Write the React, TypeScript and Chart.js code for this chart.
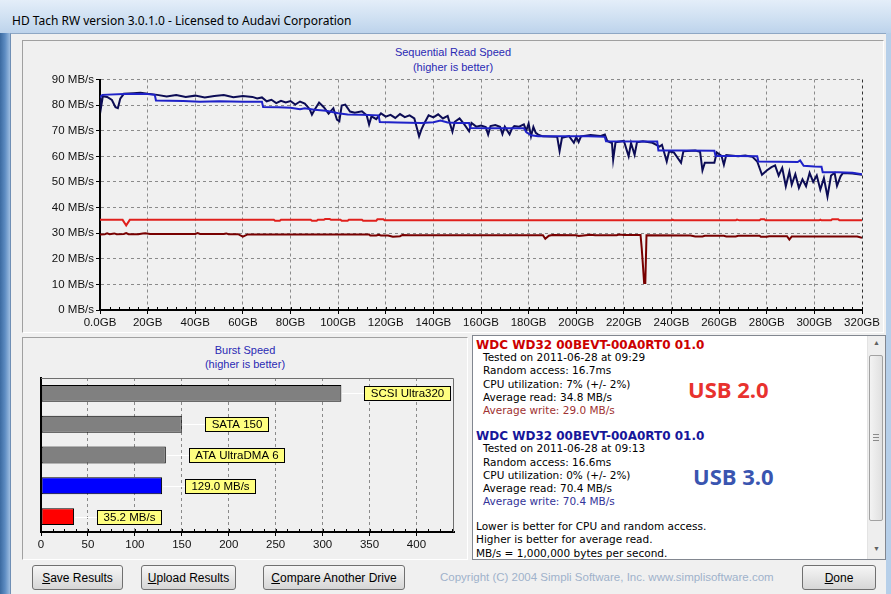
import React, { useEffect, useRef } from 'react';
import { Chart, registerables } from 'chart.js';

Chart.register(...registerables);

// ---------------- Sequential read chart data ----------------
const seqXLabels = ['0.0GB', '20GB', '40GB', '60GB', '80GB', '100GB', '120GB', '140GB', '160GB', '180GB', '200GB', '220GB', '240GB', '260GB', '280GB', '300GB', '320GB'];
const seqYLabels = ['0 MB/s', '10 MB/s', '20 MB/s', '30 MB/s', '40 MB/s', '50 MB/s', '60 MB/s', '70 MB/s', '80 MB/s', '90 MB/s'];

// USB 3.0 read (blue)
const usb3ReadGB = [0, 0.5, 1, 10, 20, 23, 23.5, 35, 42, 50, 60, 68, 68.5, 75, 80, 84, 86, 90, 95, 98, 100, 104, 110, 117, 117.5, 125, 135, 140, 143, 146, 150, 155, 155.5, 165, 178, 179, 181, 184, 195, 205, 212, 212.5, 225, 234, 234.5, 245, 258, 258.5, 268, 276, 276.5, 285, 293, 294, 295.5, 300, 303, 303.5, 310, 316, 320];
const usb3ReadMBs = [83.0, 83.5, 84.0, 84.3, 84.3, 84.0, 81.8, 81.6, 81.3, 81.5, 81.3, 81.3, 79.3, 79.2, 79.0, 78.4, 78.8, 78.2, 77.8, 77.2, 76.8, 76.3, 76.2, 76.0, 73.4, 73.2, 73.0, 73.3, 74.0, 73.2, 73.0, 73.0, 71.1, 71.0, 71.0, 69.5, 68.2, 67.8, 67.8, 67.8, 67.6, 65.9, 65.8, 65.8, 62.3, 62.3, 62.2, 60.1, 60.1, 60.0, 58.0, 57.9, 57.8, 58.4, 56.3, 56.0, 55.9, 53.8, 53.8, 53.6, 53.0];

// USB 3.0 write (navy)
const usb3WriteGB = [0, 0.5, 1.2, 3, 5, 6.5, 7.5, 8.5, 10, 14, 17, 20, 24, 28, 32, 36, 40, 44, 48, 52, 56, 60, 64, 66, 68, 70, 72, 74, 76, 78, 80, 82, 84, 86, 88, 89, 90, 92, 94, 96, 98, 99.5, 100.5, 101.5, 103, 105, 107, 110, 112, 113, 114, 116, 118, 120, 122, 124, 126, 128, 130, 132, 134, 135, 136, 138, 140, 142, 144, 146, 148, 149, 151, 153, 155, 156, 158, 160, 162, 163, 164, 166, 168, 169, 170, 172, 173, 174, 176, 178, 179, 180, 181, 182, 183, 184, 186, 192, 193, 194, 197, 199, 200, 201, 202, 206, 210, 212, 213, 215, 215.5, 216.5, 220, 222, 223, 224.5, 225.5, 228, 232, 235, 236, 238, 239, 241, 244, 245, 250, 252, 253, 254, 258, 259, 261, 262, 263, 268, 271, 274, 276, 278, 280, 282, 283.5, 285, 286.5, 288, 289.5, 290.5, 292, 293.5, 295, 296.5, 298, 299.5, 301, 302.5, 304, 305.5, 307, 308.5, 309.5, 311, 312, 316, 320];
const usb3WriteMBs = [84.0, 79.5, 83.5, 83.2, 82.0, 79.2, 78.8, 82.5, 84.4, 84.6, 84.8, 84.4, 84.0, 83.4, 83.9, 83.2, 83.7, 83.0, 83.6, 83.9, 83.1, 83.6, 83.2, 82.6, 83.0, 81.5, 82.1, 80.8, 81.7, 81.0, 81.6, 80.2, 81.4, 80.6, 78.5, 76.3, 78.0, 81.0, 79.2, 76.7, 78.8, 74.3, 73.7, 79.8, 80.2, 77.5, 77.0, 77.6, 76.0, 72.4, 75.6, 74.5, 76.8, 75.5, 76.2, 75.0, 76.5, 75.3, 76.0, 74.8, 67.8, 70.5, 72.5, 76.0, 75.2, 76.4, 74.8, 75.8, 69.6, 73.5, 74.8, 72.5, 69.8, 73.0, 71.6, 72.0, 71.4, 68.5, 71.8, 72.2, 71.5, 68.7, 71.6, 68.6, 70.8, 71.8, 71.6, 72.5, 70.0, 72.8, 67.8, 71.5, 69.2, 68.5, 67.8, 67.6, 62.0, 67.2, 67.9, 65.3, 67.5, 65.6, 67.8, 68.3, 67.9, 68.5, 66.0, 65.2, 58.7, 65.5, 66.0, 60.0, 65.2, 60.6, 65.5, 65.9, 65.3, 63.8, 64.5, 58.0, 62.0, 61.5, 57.5, 62.0, 62.3, 61.8, 54.5, 57.5, 57.5, 61.5, 60.2, 56.7, 60.5, 60.0, 60.3, 59.8, 58.0, 52.8, 54.5, 55.8, 56.5, 52.5, 55.5, 48.3, 54.0, 49.0, 53.0, 47.7, 51.0, 48.3, 53.5, 50.0, 52.5, 47.0, 51.5, 44.3, 52.5, 53.5, 48.5, 52.2, 53.5, 53.3, 52.8];

// USB 2.0 read (red)
const usb2ReadGB = [0, 9.5, 11, 12.5, 73, 73.5, 75.5, 76, 88.5, 89, 91, 91.5, 94, 94.5, 96.5, 97, 101, 101.5, 104, 104.5, 110, 110.5, 116, 116.5, 119, 119.5, 240, 240.5, 241, 267, 267.5, 268.5, 277, 277.5, 279, 279.5, 302, 302.5, 303, 307, 307.5, 310, 310.5, 320];
const usb2ReadMBs = [35.2, 35.2, 33.0, 35.2, 35.2, 34.8, 34.8, 35.2, 35.2, 34.8, 34.8, 35.2, 35.2, 35.5, 35.5, 35.2, 35.2, 34.8, 34.8, 35.2, 35.2, 34.8, 34.8, 35.4, 35.4, 35.0, 35.0, 35.3, 35.0, 35.0, 35.3, 35.0, 35.0, 35.4, 35.4, 35.0, 35.0, 35.3, 35.0, 35.0, 35.4, 35.4, 35.0, 35.0];

// USB 2.0 write (dark red)
const usb2WriteGB = [0, 2, 3, 4, 6, 7, 10, 11, 12, 16, 18, 19, 21, 40, 41, 42, 52, 53, 54, 58, 60, 62, 113, 113.5, 116, 117, 118, 121, 123, 126, 127, 130, 186, 187, 188.5, 190, 200, 201, 204, 206, 208, 217, 218, 220, 227, 227.5, 228, 228.5, 229, 229.5, 248, 250, 253, 254, 262, 263, 267, 268, 277, 277.5, 280, 281, 288.5, 289.5, 290.5, 318, 320];
const usb2WriteMBs = [29.5, 29.6, 29.9, 29.6, 29.9, 29.6, 29.7, 30.0, 29.6, 29.6, 29.9, 30.0, 29.7, 29.7, 30.0, 29.7, 29.7, 29.9, 29.6, 29.6, 28.6, 29.5, 29.5, 29.1, 29.1, 29.4, 29.1, 29.1, 28.6, 28.8, 29.3, 29.2, 29.2, 27.8, 29.0, 29.3, 29.2, 28.9, 29.2, 29.4, 29.2, 29.2, 29.5, 29.3, 29.3, 24.0, 17.5, 10.5, 10.5, 29.2, 29.1, 28.7, 28.7, 29.0, 29.0, 28.7, 28.7, 29.0, 29.0, 28.6, 28.6, 28.8, 28.8, 27.5, 28.7, 28.7, 28.2];

// ---------------- Burst speed chart data ----------------
const burstCategories = ['SCSI Ultra320', 'SATA 150', 'ATA UltraDMA 6', '129.0 MB/s', '35.2 MB/s'];
const burstValues = [320, 150, 133, 129.0, 35.2];
const burstColors = ['#808080', '#808080', '#808080', '#0000ff', '#ff0000'];
const burstXLabels = ['0', '50', '100', '150', '200', '250', '300', '350', '400'];

const FONT = '"Liberation Sans", Arial, sans-serif';

function zip(xs: number[], ys: number[]) {
  const n = Math.min(xs.length, ys.length);
  const out: { x: number; y: number }[] = [];
  for (let i = 0; i < n; i++) out.push({ x: xs[i], y: ys[i] });
  return out;
}

const minorTicksPlugin = {
  id: 'minorTicks',
  afterDraw(chart: any, _args: any, opts: any) {
    const xs = chart.scales.x;
    const ctx = chart.ctx;
    const bottom = chart.chartArea.bottom;
    ctx.save();
    ctx.strokeStyle = '#000';
    ctx.lineWidth = 1;
    for (let v = xs.min; v <= xs.max + 1e-9; v += opts.step) {
      const px = Math.round(xs.getPixelForValue(v)) + 0.5;
      ctx.beginPath();
      ctx.moveTo(px, bottom);
      ctx.lineTo(px, bottom - opts.len);
      ctx.stroke();
    }
    ctx.restore();
  },
};

const burstFramePlugin = {
  id: 'burstFrame',
  beforeDatasetsDraw(chart: any) {
    const { ctx, chartArea } = chart;
    const { left, top, right, bottom } = chartArea;
    ctx.save();
    ctx.strokeStyle = '#6e6e6e';
    ctx.lineWidth = 1;
    ctx.beginPath();
    ctx.moveTo(left, Math.round(top) + 0.5);
    ctx.lineTo(Math.round(right) - 0.5, Math.round(top) + 0.5);
    ctx.lineTo(Math.round(right) - 0.5, bottom);
    ctx.stroke();
    ctx.restore();
  },
};

const burstLabelPlugin = {
  id: 'burstLabels',
  afterDatasetsDraw(chart: any) {
    const ctx = chart.ctx;
    const meta = chart.getDatasetMeta(0);
    ctx.save();
    ctx.font = '11.5px ' + FONT;
    ctx.textAlign = 'center';
    ctx.textBaseline = 'middle';
    meta.data.forEach((el: any, i: number) => {
      const text = String(chart.data.labels[i]);
      const xEnd = Math.round(el.x);
      const yc = Math.round(el.y);
      const w = Math.round(ctx.measureText(text).width + 13);
      const h = 15;
      const bx = xEnd + 23;
      ctx.strokeStyle = '#ffffff';
      ctx.lineWidth = 1;
      ctx.beginPath();
      ctx.moveTo(xEnd + 1, yc + 0.5);
      ctx.lineTo(bx, yc + 0.5);
      ctx.stroke();
      ctx.fillStyle = '#ffff80';
      ctx.fillRect(bx, yc - 7, w, h);
      ctx.strokeStyle = '#000';
      ctx.strokeRect(bx + 0.5, yc - 6.5, w - 1, h - 1);
      ctx.fillStyle = '#000';
      ctx.fillText(text, bx + w / 2, yc + 1);
    });
    ctx.restore();
  },
};

function SeqChart() {
  const ref = useRef<HTMLCanvasElement>(null);
  useEffect(() => {
    const lineDs = (data: any, color: string) => ({
      data,
      borderColor: color,
      borderWidth: 2,
      pointRadius: 0,
      tension: 0,
      fill: false,
    });
    const chart = new Chart(ref.current as HTMLCanvasElement, {
      type: 'line',
      data: {
        datasets: [
          lineDs(zip(usb3ReadGB, usb3ReadMBs), '#1f22c8'),
          lineDs(zip(usb3WriteGB, usb3WriteMBs), '#0c0c55'),
          lineDs(zip(usb2ReadGB, usb2ReadMBs), '#e0201c'),
          lineDs(zip(usb2WriteGB, usb2WriteMBs), '#780000'),
        ],
      },
      options: {
        responsive: false,
        animation: false,
        events: [],
        layout: { padding: { left: 0, right: 22, top: 41.5, bottom: 0 } },
        plugins: {
          legend: { display: false },
          tooltip: { enabled: false },
          title: { display: false },
          minorTicks: { step: 4, len: 3 },
        } as any,
        scales: {
          x: {
            type: 'linear',
            min: 0,
            max: 320,
            ticks: {
              stepSize: 20,
              autoSkip: false,
              maxRotation: 0,
              padding: 2,
              color: '#111',
              font: { family: FONT, size: 11.5 },
              callback: (v: any) => seqXLabels[Math.round(Number(v) / 20)],
            },
            grid: {
              color: (c: any) => (c.tick && c.tick.value === 320 ? '#333' : '#8a8a8a'),
              lineWidth: 1,
              tickLength: 4,
              tickColor: '#000',
            },
            border: { display: true, color: '#000', width: 2, dash: [3, 3] },
            afterFit: (s: any) => {
              s.height = 23;
              s.paddingLeft = 0;
              s.paddingRight = 0;
            },
          },
          y: {
            min: 0,
            max: 90,
            ticks: {
              stepSize: 10,
              padding: 2,
              color: '#111',
              font: { family: FONT, size: 11.5 },
              callback: (v: any) => seqYLabels[Math.round(Number(v) / 10)],
            },
            grid: { color: '#8a8a8a', lineWidth: 1, tickLength: 4, tickColor: '#000' },
            border: { display: true, color: '#000', width: 2, dash: [3, 3] },
            afterFit: (s: any) => {
              s.width = 78;
              s.paddingTop = 0;
              s.paddingBottom = 0;
            },
          },
        } as any,
      },
      plugins: [minorTicksPlugin],
    });
    return () => chart.destroy();
  }, []);
  return (
    <canvas
      ref={ref}
      width={862}
      height={295}
      style={{ position: 'absolute', left: 22, top: 38, width: 862, height: 295 }}
    />
  );
}

function BurstChart() {
  const ref = useRef<HTMLCanvasElement>(null);
  useEffect(() => {
    const chart = new Chart(ref.current as HTMLCanvasElement, {
      type: 'bar',
      data: {
        labels: burstCategories,
        datasets: [
          {
            data: burstValues,
            backgroundColor: burstColors,
            borderColor: '#000',
            borderWidth: 1,
            borderSkipped: false,
            barPercentage: 0.55,
            categoryPercentage: 1,
          },
        ],
      },
      options: {
        indexAxis: 'y',
        responsive: false,
        animation: false,
        events: [],
        layout: { padding: { left: 19, right: 14, top: 41, bottom: 0 } },
        plugins: {
          legend: { display: false },
          tooltip: { enabled: false },
          minorTicks: { step: 12.5, len: 3 },
        } as any,
        scales: {
          x: {
            type: 'linear',
            min: 0,
            max: 440,
            ticks: {
              stepSize: 50,
              includeBounds: false,
              autoSkip: false,
              maxRotation: 0,
              padding: 2,
              color: '#111',
              font: { family: FONT, size: 11.5 },
              callback: (v: any) => burstXLabels[Math.round(Number(v) / 50)],
            },
            grid: {
              color: (c: any) => (c.tick && c.tick.value === 0 ? 'rgba(0,0,0,0)' : '#8a8a8a'),
              lineWidth: 1,
              tickLength: 4,
              tickColor: '#000',
            },
            border: { display: true, color: '#000', width: 2, dash: [3, 3] },
            afterFit: (s: any) => {
              s.height = 28;
              s.paddingLeft = 0;
              s.paddingRight = 0;
            },
          },
          y: {
            ticks: { display: false },
            grid: { display: false, drawTicks: false },
            border: { display: true, color: '#000', width: 2 },
            afterFit: (s: any) => {
              s.width = 0;
              s.paddingTop = 0;
              s.paddingBottom = 0;
            },
          },
        } as any,
      },
      plugins: [burstFramePlugin, burstLabelPlugin, minorTicksPlugin],
    });
    return () => chart.destroy();
  }, []);
  return (
    <canvas
      ref={ref}
      width={446}
      height={223}
      style={{ position: 'absolute', left: 22, top: 337, width: 446, height: 223 }}
    />
  );
}

function T(props: { x: number; cy: number; h?: number; style?: any; children: any }) {
  const h = props.h || 14;
  return (
    <div
      style={{
        position: 'absolute',
        left: props.x,
        top: props.cy - h / 2,
        height: h,
        lineHeight: h + 'px',
        whiteSpace: 'nowrap',
        ...props.style,
      }}
    >
      {props.children}
    </div>
  );
}

function Btn(props: { left: number; width: number; label: string }) {
  return (
    <div
      style={{
        position: 'absolute',
        left: props.left,
        top: 565,
        width: props.width,
        height: 25,
        boxSizing: 'border-box',
        border: '1px solid #707070',
        borderRadius: 3,
        background: 'linear-gradient(#f6f6f6, #e6e6e6 50%, #d6d6d6)',
        font: '12px ' + FONT,
        color: '#000',
        display: 'flex',
        alignItems: 'center',
        justifyContent: 'center',
      }}
    >
      <span>
        <u>{props.label[0]}</u>
        {props.label.slice(1)}
      </span>
    </div>
  );
}

export default function App() {
  const body = { font: '10.5px "DejaVu Sans", Verdana, sans-serif', color: '#000' };
  const title = { font: 'bold 12px "DejaVu Sans", Verdana, sans-serif' };
  const blueTitle = { font: '11px ' + FONT, color: '#2a2ab4' };
  return (
    <div
      style={{
        position: 'fixed',
        left: 0,
        top: 0,
        width: 891,
        height: 594,
        overflow: 'hidden',
        background: '#c9dcef',
      }}
    >
      {/* title bar */}
      <div
        style={{
          position: 'absolute',
          left: 0,
          top: 0,
          width: 891,
          height: 33,
          background: 'linear-gradient(180deg, #e4eef9 0%, #cfe0f2 55%, #bdd3eb 100%)',
        }}
      />
      <T x={12} cy={21} h={18} style={{ font: '12px "Noto Sans", "Open Sans", sans-serif', color: '#000' }}>
        HD Tach RW version 3.0.1.0 - Licensed to Audavi Corporation
      </T>
      {/* left frame */}
      <div
        style={{
          position: 'absolute',
          left: 0,
          top: 33,
          width: 10,
          height: 561,
          background: 'linear-gradient(90deg, #3b6aa0, #5d8cc2 50%, #9dbde0)',
        }}
      />
      <div style={{ position: 'absolute', left: 886, top: 33, width: 5, height: 561, background: '#b6cfe9' }} />
      {/* client area */}
      <div
        style={{
          position: 'absolute',
          left: 10,
          top: 33,
          width: 876,
          height: 561,
          boxSizing: 'border-box',
          background: '#f0f0f0',
          borderTop: '1px solid #8ea7c4',
          borderLeft: '1px solid #6f8fb5',
        }}
      />
      {/* main panel */}
      <div
        style={{
          position: 'absolute',
          left: 22,
          top: 40,
          width: 862,
          height: 293,
          boxSizing: 'border-box',
          background: '#f0f0f0',
          border: '1px solid',
          borderColor: '#a0a0a0 #ffffff #ffffff #a0a0a0',
        }}
      />
      <T x={22} cy={53} h={14} style={{ ...blueTitle, width: 862, textAlign: 'center' }}>Sequential Read Speed</T>
      <T x={22} cy={68} h={14} style={{ ...blueTitle, width: 862, textAlign: 'center' }}>(higher is better)</T>
      <SeqChart />

      {/* burst panel */}
      <div
        style={{
          position: 'absolute',
          left: 22,
          top: 337,
          width: 446,
          height: 223,
          boxSizing: 'border-box',
          background: '#f0f0f0',
          border: '1px solid',
          borderColor: '#a0a0a0 #ffffff #ffffff #a0a0a0',
        }}
      />
      <T x={22} cy={351} h={14} style={{ ...blueTitle, width: 446, textAlign: 'center' }}>Burst Speed</T>
      <T x={22} cy={365} h={14} style={{ ...blueTitle, width: 446, textAlign: 'center' }}>(higher is better)</T>
      <BurstChart />

      {/* text panel */}
      <div
        style={{
          position: 'absolute',
          left: 472,
          top: 335,
          width: 414,
          height: 225,
          boxSizing: 'border-box',
          background: '#ffffff',
          border: '1px solid #828790',
        }}
      >
        <T x={3} cy={9} style={{ ...title, color: '#cc0000' }}>WDC WD32 00BEVT-00A0RT0 01.0</T>
        <T x={10} cy={22} style={body}>Tested on 2011-06-28 at 09:29</T>
        <T x={10} cy={35.3} style={body}>Random access: 16.7ms</T>
        <T x={10} cy={48.6} style={body}>CPU utilization: 7% (+/- 2%)</T>
        <T x={10} cy={62} style={body}>Average read: 34.8 MB/s</T>
        <T x={10} cy={75.3} style={{ ...body, color: '#a03232' }}>Average write: 29.0 MB/s</T>
        <T x={215} cy={52} h={28} style={{ font: 'bold 22px "Open Sans", "Noto Sans", sans-serif', color: '#e8322e' }}>USB 2.0</T>

        <T x={3} cy={100} style={{ ...title, color: '#16169a' }}>WDC WD32 00BEVT-00A0RT0 01.0</T>
        <T x={10} cy={113.3} style={body}>Tested on 2011-06-28 at 09:13</T>
        <T x={10} cy={126.7} style={body}>Random access: 16.6ms</T>
        <T x={10} cy={140} style={body}>CPU utilization: 0% (+/- 2%)</T>
        <T x={10} cy={153} style={body}>Average read: 70.4 MB/s</T>
        <T x={10} cy={166} style={{ ...body, color: '#333399' }}>Average write: 70.4 MB/s</T>
        <T x={220} cy={139} h={28} style={{ font: 'bold 22px "Open Sans", "Noto Sans", sans-serif', color: '#3a55b0' }}>USB 3.0</T>

        <T x={3} cy={190.5} style={body}>Lower is better for CPU and random access.</T>
        <T x={3} cy={204} style={body}>Higher is better for average read.</T>
        <T x={3} cy={217.5} style={body}>MB/s = 1,000,000 bytes per second.</T>

        {/* scrollbar */}
        <div
          style={{
            position: 'absolute',
            right: 0,
            top: 0,
            width: 17,
            height: 223,
            background: '#eeeeee',
            borderLeft: '1px solid #e3e3e3',
          }}
        >
          <div style={{ position: 'absolute', left: 0, top: 3, width: 17, textAlign: 'center', font: '7px ' + FONT, color: '#606060' }}>▲</div>
          <div
            style={{
              position: 'absolute',
              left: 1,
              top: 19,
              width: 14,
              height: 166,
              boxSizing: 'border-box',
              border: '1px solid #a2a2a2',
              borderRadius: 2,
              background: 'linear-gradient(90deg, #f3f3f3, #e0e0e0)',
            }}
          >
            <div style={{ position: 'absolute', left: 3, top: 78, width: 6, height: 1, background: '#8a8a8a' }} />
            <div style={{ position: 'absolute', left: 3, top: 81, width: 6, height: 1, background: '#8a8a8a' }} />
            <div style={{ position: 'absolute', left: 3, top: 84, width: 6, height: 1, background: '#8a8a8a' }} />
          </div>
          <div style={{ position: 'absolute', left: 0, top: 209, width: 17, textAlign: 'center', font: '7px ' + FONT, color: '#606060' }}>▼</div>
        </div>
      </div>

      {/* buttons */}
      <Btn left={32} width={91} label="Save Results" />
      <Btn left={141} width={95} label="Upload Results" />
      <Btn left={263} width={142} label="Compare Another Drive" />
      <Btn left={802} width={74} label="Done" />
      <T x={440} cy={578} h={14} style={{ font: '11.5px ' + FONT, color: '#9fb2cb' }}>
        Copyright (C) 2004 Simpli Software, Inc. www.simplisoftware.com
      </T>
    </div>
  );
}
